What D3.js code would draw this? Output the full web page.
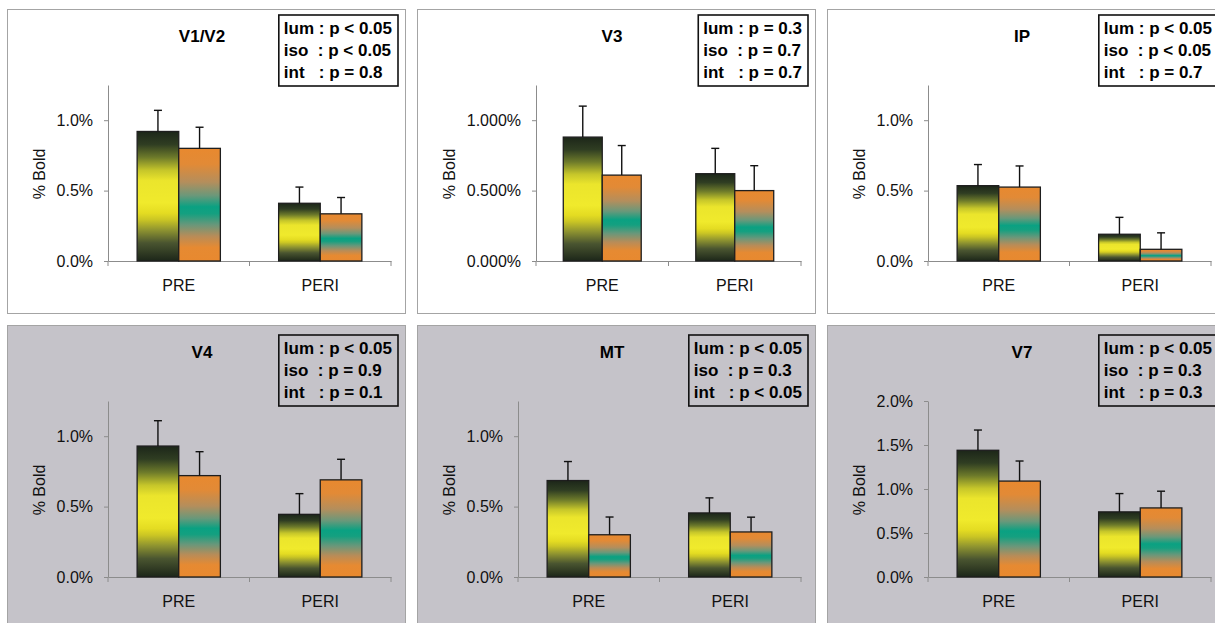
<!DOCTYPE html>
<html>
<head>
<meta charset="utf-8">
<script src="https://cdn.jsdelivr.net/npm/d3@7"></script>
<style>
    body { margin: 0; background: #fff; }
    svg { display: block; font-family: "Liberation Sans", Arial, sans-serif; }
    .axis path, .axis line { stroke: #8c8c8c; }
    .axis text { font-size: 16px; fill: #111; }
    .legend text { font-size: 17px; font-weight: bold; white-space: pre; fill: #000; }
</style>
</head>
<body>
<div id="chart"></div>
<script>
// one panel per cortical region
var regions = ['V1/V2', 'V3', 'IP', 'V4', 'MT', 'V7'];
var phases = ['PRE', 'PERI'];
var series = ['lum', 'iso'];

// % bold signal, [PRE, PERI] for each region
var lumMean = [[0.92, 0.41], [0.88, 0.62], [0.535, 0.19], [0.93, 0.445], [0.685, 0.455], [1.44, 0.74]];
var lumErr = [[0.15, 0.115], [0.22, 0.18], [0.15, 0.12], [0.18, 0.147], [0.135, 0.107], [0.23, 0.208]];
var isoMean = [[0.80, 0.335], [0.61, 0.50], [0.525, 0.083], [0.72, 0.69], [0.30, 0.32], [1.09, 0.785]];
var isoErr = [[0.15, 0.116], [0.21, 0.177], [0.15, 0.117], [0.17, 0.146], [0.126, 0.105], [0.228, 0.19]];

// axis settings per panel
var yMax = [1.25, 1.25, 1.25, 1.25, 1.25, 2.0];
var decimals = [1, 3, 1, 1, 1, 1];

// statistics box text
var lumP = ['p < 0.05', 'p = 0.3', 'p < 0.05', 'p < 0.05', 'p < 0.05', 'p < 0.05'];
var isoP = ['p < 0.05', 'p = 0.7', 'p < 0.05', 'p = 0.9', 'p = 0.3', 'p = 0.3'];
var intP = ['p = 0.8', 'p = 0.7', 'p = 0.7', 'p = 0.1', 'p < 0.05', 'p = 0.3'];

var panelX = [7, 417, 827, 7, 417, 827],
    panelY = [9, 9, 9, 325, 325, 325],
    panelW = 398, panelH = 304;

var svg = d3.select('#chart').append('svg')
    .attr('width', 1215)
    .attr('height', 623);

var defs = svg.append('defs');
var lumGrad = defs.append('linearGradient').attr('id', 'gLum')
    .attr('x1', 0).attr('y1', 0).attr('x2', 0).attr('y2', 1);
[[0, '#1c2619'], [0.1, '#2f3d22'], [0.2, '#6d7a2a'], [0.3, '#c6c62a'], [0.38, '#ebe52c'],
 [0.55, '#f0ea2c'], [0.63, '#e4dc22'], [0.68, '#cbc624'], [0.76, '#8f9430'], [0.86, '#4a5530'],
 [1, '#1c2619']].forEach(function(s) {
    lumGrad.append('stop').attr('offset', s[0]).attr('stop-color', s[1]);
});
var isoGrad = defs.append('linearGradient').attr('id', 'gIso')
    .attr('x1', 0).attr('y1', 0).attr('x2', 0).attr('y2', 1);
[[0, '#e8892f'], [0.14, '#e28a36'], [0.3, '#b48e5c'], [0.42, '#6a987a'], [0.52, '#0aa182'],
 [0.58, '#14a080'], [0.68, '#6a977a'], [0.78, '#b88c58'], [0.88, '#e68a32'], [1, '#e8892f']].forEach(function(s) {
    isoGrad.append('stop').attr('offset', s[0]).attr('stop-color', s[1]);
});

regions.forEach(function(name, i) {
    var g = svg.append('g')
        .attr('transform', 'translate(' + panelX[i] + ',' + panelY[i] + ')');

    g.append('rect')
        .attr('x', 0.5).attr('y', 0.5)
        .attr('width', panelW).attr('height', panelH)
        .attr('fill', i < 3 ? '#ffffff' : '#c5c3c9')
        .attr('stroke', '#a4a4a4');

    var left = decimals[i] == 3 ? 119 : 101,
        right = 384, top = 76, bottom = 252;

    var x0 = d3.scaleBand().domain(phases).range([left, right]);
    var x1 = d3.scaleBand().domain(series).range([0, x0.bandwidth()]).paddingOuter(0.7);
    var y = d3.scaleLinear().domain([0, yMax[i]]).range([bottom, top]);

    var yAxis = d3.axisLeft(y)
        .tickValues(d3.range(0, yMax[i] + 0.001, 0.5))
        .tickSize(4)
        .tickSizeOuter(0)
        .tickPadding(11)
        .tickFormat(function(d) { return d.toFixed(decimals[i]) + '%'; });
    g.append('g')
        .attr('class', 'axis')
        .attr('transform', 'translate(' + left + ',0)')
        .call(yAxis);

    var xAxis = d3.axisBottom(x0).tickSize(0).tickSizeOuter(0).tickPadding(19);
    g.append('g')
        .attr('class', 'axis')
        .attr('transform', 'translate(0,' + bottom + ')')
        .call(xAxis);
    g.selectAll('.xbound')
        .data([left, x0('PERI'), right])
        .enter().append('line')
        .attr('x1', function(d) { return d; })
        .attr('x2', function(d) { return d; })
        .attr('y1', bottom).attr('y2', bottom + 5)
        .style('stroke', '#8c8c8c');

    var rows = [];
    phases.forEach(function(p, j) {
        rows.push({ phase: p, s: 'lum', v: lumMean[i][j], e: lumErr[i][j] });
        rows.push({ phase: p, s: 'iso', v: isoMean[i][j], e: isoErr[i][j] });
    });

    g.selectAll('.bar')
        .data(rows)
        .enter().append('rect')
        .attr('class', 'bar')
        .attr('x', function(d) { return x0(d.phase) + x1(d.s); })
        .attr('y', function(d) { return y(d.v); })
        .attr('width', x1.bandwidth())
        .attr('height', function(d) { return y(0) - y(d.v); })
        .style('fill', function(d) { return d.s == 'lum' ? 'url(#gLum)' : 'url(#gIso)'; })
        .style('stroke', '#1e1e1e')
        .style('stroke-width', 1.3);

    var err = g.selectAll('.err')
        .data(rows)
        .enter().append('g')
        .attr('class', 'err')
        .attr('transform', function(d) {
            return 'translate(' + (x0(d.phase) + x1(d.s) + x1.bandwidth() / 2) + ',0)';
        });
    err.append('line')
        .attr('y1', function(d) { return y(d.v); })
        .attr('y2', function(d) { return y(d.v + d.e); })
        .style('stroke', '#111').style('stroke-width', 1.4);
    err.append('line')
        .attr('x1', -4).attr('x2', 4)
        .attr('y1', function(d) { return y(d.v + d.e); })
        .attr('y2', function(d) { return y(d.v + d.e); })
        .style('stroke', '#111').style('stroke-width', 1.4);

    // title
    g.append('text')
        .attr('x', 195).attr('y', 33)
        .style('text-anchor', 'middle')
        .style('font-size', '17px')
        .style('font-weight', 'bold')
        .text(name);

    // y label
    g.append('text')
        .attr('transform', 'translate(38,165) rotate(-90)')
        .style('text-anchor', 'middle')
        .style('font-size', '16px')
        .style('fill', '#111')
        .text('% Bold');

    // stats box
    var lg = g.append('g').attr('class', 'legend');
    var lines = ['lum : ' + lumP[i], 'iso  : ' + isoP[i], 'int   : ' + intP[i]];
    var texts = lg.selectAll('text')
        .data(lines)
        .enter().append('text')
        .attr('y', function(d, k) { return 25 + k * 22; })
        .text(function(d) { return d; });
    var w = 0;
    texts.each(function() { w = Math.max(w, this.getComputedTextLength()); });
    var boxRight = 391, boxLeft = boxRight - w - 11;
    texts.attr('x', boxLeft + 5);
    lg.insert('rect', 'text')
        .attr('x', boxLeft).attr('y', i < 3 ? 6 : 10)
        .attr('width', boxRight - boxLeft).attr('height', 71)
        .attr('fill', 'none')
        .attr('stroke', '#111')
        .attr('stroke-width', 1.6);
    if (i >= 3) texts.attr('y', function(d, k) { return 29 + k * 22; });
});
</script>
</body>
</html>
